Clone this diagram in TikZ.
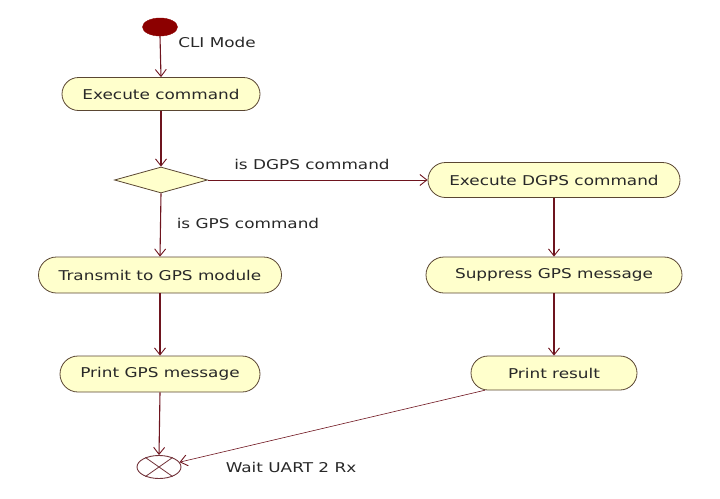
\documentclass[tikz,border=0pt]{standalone}
\usepackage{fontspec}
\setmainfont{DejaVu Sans}[FakeStretch=1.25]
\usetikzlibrary{shapes.misc,shapes.geometric,arrows.meta}
\definecolor{actfill}{RGB}{255,255,204}
\definecolor{actdraw}{RGB}{90,70,50}
\definecolor{flow}{RGB}{110,20,30}
\definecolor{startred}{RGB}{140,0,0}
\definecolor{txt}{RGB}{40,40,40}
\begin{document}
\begin{tikzpicture}[x=1pt,y=-1pt,
  every node/.style={font=\fontsize{13.5}{15}\selectfont, text=txt},
  act/.style={rounded rectangle, draw=actdraw, line width=0.8pt, fill=actfill, inner sep=0pt, minimum height=35pt},
  flowline/.style={draw=flow, line width=1.1pt, -{Straight Barb[length=7pt,width=11pt,line width=0.9pt]}},
  lbl/.style={inner sep=0pt}]
\useasboundingbox (0,0) rectangle (720,498);
\node[ellipse, fill=startred, draw=startred, inner sep=0pt, minimum width=35pt, minimum height=18pt] (start) at (160,27) {};
\node[lbl] (clil) at (217,42) {CLI Mode};
\node[act, minimum width=198pt, minimum height=33pt] (exec) at (161,94) {Execute command};
\node[diamond, draw=actdraw, fill=actfill, line width=0.8pt, inner sep=0pt, minimum width=93pt, minimum height=26pt] (dec) at (161,180) {};
\node[act, minimum width=252pt] (dgps) at (554,180) {Execute DGPS command};
\node[act, minimum width=243pt, minimum height=36pt] (tgps) at (160,275) {Transmit to GPS module};
\node[act, minimum width=256pt, minimum height=36pt] (sup) at (554,275) {Suppress GPS message};
\node[act, minimum width=200pt, minimum height=36pt] (pgps) at (160,374) {Print GPS message};
\node[act, minimum width=166pt, minimum height=34pt] (pres) at (554,373) {Print result};
\node[ellipse, draw=flow!70!gray, line width=0.9pt, fill=white, inner sep=0pt, minimum width=44pt, minimum height=23pt] (end) at (159,467) {};
\draw[flow!70!gray, line width=0.8pt] (end.35) -- (end.215) (end.145) -- (end.325);
\node[lbl] (waitl) at (291,467) {Wait UART 2 Rx};
\node[lbl] (dgpsl) at (312,164) {is DGPS command};
\node[lbl] (gpsl) at (248,223) {is GPS command};
\draw[flowline] (start.south) -- (exec.north);
\draw[flowline] (exec.south) -- (dec.north);
\draw[flowline, line width=0.8pt] (dec.east) -- (dgps.west);
\draw[flowline] (dec.south) -- (tgps.north);
\draw[flowline] (dgps.south) -- (sup.north);
\draw[flowline] (tgps.south) -- (pgps.north);
\draw[flowline] (sup.south) -- (pres.north);
\draw[flowline] (pgps.south) -- (end.north);
\draw[flowline, line width=0.6pt] (pres.194) -- (end);
\end{tikzpicture}
\end{document}
